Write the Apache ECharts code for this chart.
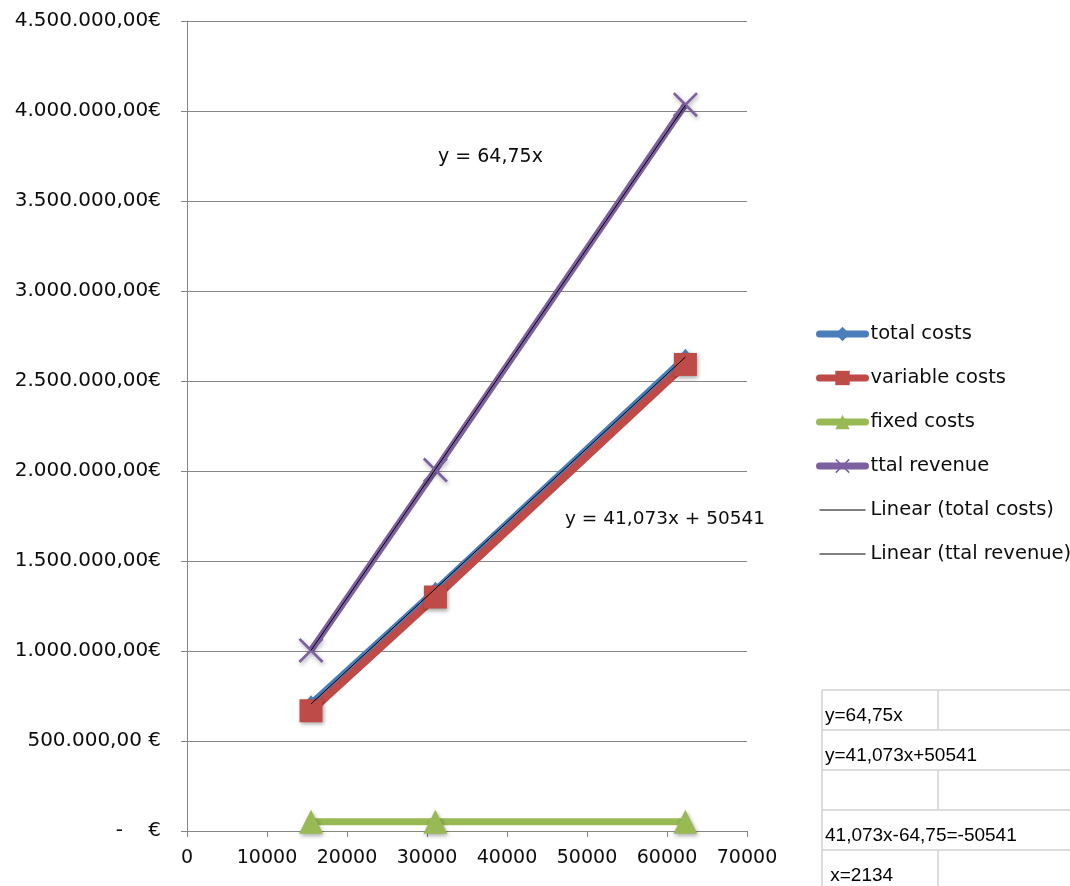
<!DOCTYPE html>
<html>
<head>
<meta charset="utf-8">
<script src="https://cdn.jsdelivr.net/npm/echarts@6/dist/echarts.min.js"></script>
<style>
html,body{margin:0;padding:0;background:#fff;}
#chart{width:1070px;height:886px;}
</style>
</head>
<body>
<div id="chart"></div>
<script>
// ---- data ----
const xValues = [15500, 31050, 62300];
const totalCosts = [710000, 1340000, 2635000];
const variableCosts = [668000, 1300000, 2592000];
const fixedCosts = [52000, 52000, 52000];
const totalRevenue = [1003000, 2005000, 4035000];

const seriesNames = ['total costs', 'variable costs', 'fixed costs', 'ttal revenue',
                     'Linear (total costs)', 'Linear (ttal revenue)'];
const yTickLabels = ['-    €', '500.000,00 €', '1.000.000,00€', '1.500.000,00€', '2.000.000,00€',
                     '2.500.000,00€', '3.000.000,00€', '3.500.000,00€', '4.000.000,00€', '4.500.000,00€'];
const trendLabels = ['y = 64,75x', 'y = 41,073x + 50541'];
const tableRows = ['y=64,75x', 'y=41,073x+50541', '', '41,073x-64,75=-50541', ' x=2134'];

// least-squares trend lines (Excel "Linear" trendline)
function fit(xs, ys, throughOrigin) {
  const n = xs.length;
  if (throughOrigin) {
    let sxy = 0, sxx = 0;
    for (let i = 0; i < n; i++) { sxy += xs[i] * ys[i]; sxx += xs[i] * xs[i]; }
    return { m: sxy / sxx, b: 0 };
  }
  let sx = 0, sy = 0, sxy = 0, sxx = 0;
  for (let i = 0; i < n; i++) { sx += xs[i]; sy += ys[i]; sxy += xs[i] * ys[i]; sxx += xs[i] * xs[i]; }
  const m = (n * sxy - sx * sy) / (n * sxx - sx * sx);
  return { m: m, b: (sy - m * sx) / n };
}
function trendData(xs, ys, origin) {
  const f = fit(xs, ys, origin);
  const a = xs[0], z = xs[xs.length - 1];
  return [[a, f.m * a + f.b], [z, f.m * z + f.b]];
}
function pairs(xs, ys) { return xs.map((x, i) => [x, ys[i]]); }

const FONT = 'DejaVu Sans';
const TFONT = '"Liberation Sans Narrow", "Liberation Sans", sans-serif';
const TXT = '#0d0d0d';
const shadow = { shadowBlur: 4, shadowColor: 'rgba(0,0,0,0.35)', shadowOffsetX: 1, shadowOffsetY: 2 };
const crossPath = 'path://M0,1.8L1.8,0L12,10.2L22.2,0L24,1.8L13.8,12L24,22.2L22.2,24L12,13.8L1.8,24L0,22.2L10.2,12Z';
const colors = ['#4a7ebb', '#be4b48', '#98b954', '#7d60a0'];

// table graphics
const tableX = 822, tableTop = 690, rowH = 40, midX = 938, rightX = 1070;
const graphics = [];
for (let i = 0; i < 5; i++) {
  graphics.push({ type: 'line', shape: { x1: tableX, y1: tableTop + i * rowH, x2: rightX, y2: tableTop + i * rowH },
                  style: { stroke: '#d0d0d0', lineWidth: 1.5 } });
}
graphics.push({ type: 'line', shape: { x1: tableX, y1: tableTop, x2: tableX, y2: 886 }, style: { stroke: '#d0d0d0', lineWidth: 1.5 } });
[0, 2, 4].forEach(function (r) {
  graphics.push({ type: 'line', shape: { x1: midX, y1: tableTop + r * rowH, x2: midX, y2: Math.min(886, tableTop + (r + 1) * rowH) },
                  style: { stroke: '#d0d0d0', lineWidth: 1.5 } });
});
tableRows.forEach(function (t, i) {
  if (!t) return;
  graphics.push({ type: 'text', left: 825, top: tableTop + i * rowH + 16,
                  style: { text: t, font: '19px ' + TFONT, fill: '#000' } });
});
graphics.push({ type: 'text', left: 438, top: 148, style: { text: trendLabels[0], font: '19px ' + FONT, fill: TXT } });
graphics.push({ type: 'text', left: 565, top: 510, style: { text: trendLabels[1], font: '18.5px ' + FONT, fill: TXT } });

function legendItem(i) {
  if (i < 4) return { name: seriesNames[i], lineStyle: { width: 7, cap: 'round', color: colors[i] } };
  return { name: seriesNames[i], lineStyle: { width: 1, color: '#000' }, itemStyle: { color: 'rgba(0,0,0,0)', opacity: 0 } };
}

const chart = echarts.init(document.getElementById('chart'), null, { renderer: 'canvas' });
chart.setOption({
  animation: false,
  backgroundColor: '#fff',
  textStyle: { fontFamily: FONT },
  grid: { left: 187, right: 323, top: 21, bottom: 55, containLabel: false },
  legend: {
    orient: 'vertical', left: 811, top: 319,
    itemWidth: 46, itemHeight: 18, itemGap: 24,
    textStyle: { fontSize: 19.5, color: TXT, fontFamily: FONT },
    data: seriesNames.map(function (n, i) { return legendItem(i); })
  },
  xAxis: {
    type: 'value', min: 0, max: 70000, interval: 10000,
    axisLine: { show: true, lineStyle: { color: '#868686', width: 1 } },
    axisTick: { show: true, length: 6, lineStyle: { color: '#868686' } },
    splitLine: { show: false },
    axisLabel: { fontSize: 19, color: TXT, margin: 18, formatter: function (v) { return String(v); } }
  },
  yAxis: {
    type: 'value', min: 0, max: 4500000, interval: 500000,
    axisLine: { show: true, lineStyle: { color: '#868686', width: 1 } },
    axisTick: { show: true, length: 6, lineStyle: { color: '#868686' } },
    splitLine: { show: true, lineStyle: { color: '#868686', width: 1 } },
    axisLabel: { fontSize: 20, color: TXT, margin: 26,
                 formatter: function (v) { return yTickLabels[Math.round(v / 500000)]; } }
  },
  graphic: graphics,
  series: [
    { name: seriesNames[0], type: 'line', data: pairs(xValues, totalCosts), z: 2,
      symbol: 'diamond', symbolSize: [13, 16], lineStyle: { color: colors[0], width: 6 },
      itemStyle: Object.assign({ color: colors[0] }, shadow) },
    { name: seriesNames[1], type: 'line', data: pairs(xValues, variableCosts), z: 3,
      symbol: 'rect', symbolSize: 23, lineStyle: { color: colors[1], width: 8 },
      itemStyle: Object.assign({ color: colors[1] }, shadow) },
    { name: seriesNames[2], type: 'line', data: pairs(xValues, fixedCosts), z: 3,
      symbol: 'triangle', symbolSize: [24, 24], lineStyle: { color: colors[2], width: 7 },
      itemStyle: Object.assign({ color: colors[2] }, shadow) },
    { name: seriesNames[3], type: 'line', data: pairs(xValues, totalRevenue), z: 3,
      symbol: crossPath, symbolSize: 25, lineStyle: { color: colors[3], width: 6.5 },
      itemStyle: Object.assign({ color: colors[3] }, shadow) },
    { name: seriesNames[4], type: 'line', data: trendData(xValues, totalCosts, false), z: 5,
      symbol: 'none', lineStyle: { color: '#000', width: 1 }, itemStyle: { color: 'rgba(0,0,0,0)' } },
    { name: seriesNames[5], type: 'line', data: trendData(xValues, totalRevenue, true), z: 5,
      symbol: 'none', lineStyle: { color: '#000', width: 1 }, itemStyle: { color: 'rgba(0,0,0,0)' } }
  ]
});
</script>
</body>
</html>
